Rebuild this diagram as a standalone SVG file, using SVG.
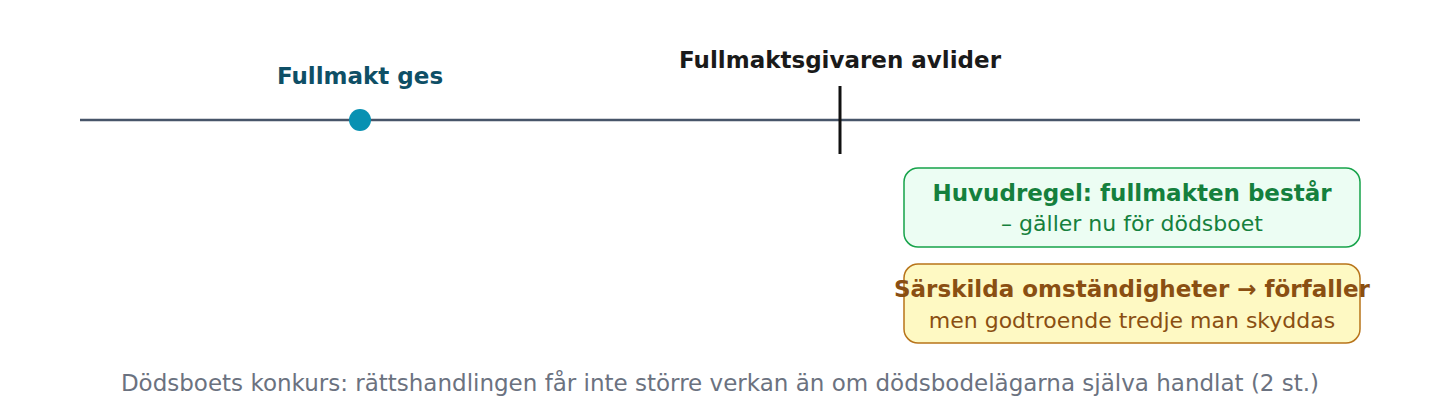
<svg xmlns="http://www.w3.org/2000/svg" width="1440" height="416" viewBox="0 0 1440 416">
<style>
text{font-family:"DejaVu Sans","Noto Sans",sans-serif;text-anchor:middle}
.title{font-size:23px;font-weight:bold}
.h{font-size:23px;font-weight:bold}
.s{font-size:22px}
</style>
<rect width="1440" height="416" fill="#ffffff"/>
<g id="connectors">
<line x1="80" y1="120" x2="1360" y2="120" stroke="#475569" stroke-width="2.5"/>
</g>
<g id="node-fullmakt-ges">
<circle cx="360" cy="120" r="11" fill="#0891b2"/>
<text x="360" y="84" class="title" fill="#0e4f66">Fullmakt ges</text>
</g>
<g id="node-avlider">
<line x1="840" y1="86" x2="840" y2="154" stroke="#111111" stroke-width="3"/>
<text x="840" y="68" class="title" fill="#1a1a1a">Fullmaktsgivaren avlider</text>
</g>
<g id="node-huvudregel">
<rect x="904" y="168" width="456" height="79" rx="14" fill="#ecfdf3" stroke="#16a34a" stroke-width="1.5"/>
<text x="1132" y="201" class="h" fill="#15803d">Huvudregel: fullmakten består</text>
<text x="1132" y="231" class="s" fill="#15803d">– gäller nu för dödsboet</text>
</g>
<g id="node-sarskilda">
<rect x="904" y="264" width="456" height="79" rx="14" fill="#fef9c3" stroke="#b8741a" stroke-width="1.5"/>
<text x="1132" y="297" class="h" fill="#8a4f12">Särskilda omständigheter → förfaller</text>
<text x="1132" y="328" class="s" fill="#8a4f12">men godtroende tredje man skyddas</text>
</g>
<g id="footer">
<text x="720" y="391" font-size="23" fill="#6b7280">Dödsboets konkurs: rättshandlingen får inte större verkan än om dödsbodelägarna själva handlat (2 st.)</text>
</g>
</svg>
